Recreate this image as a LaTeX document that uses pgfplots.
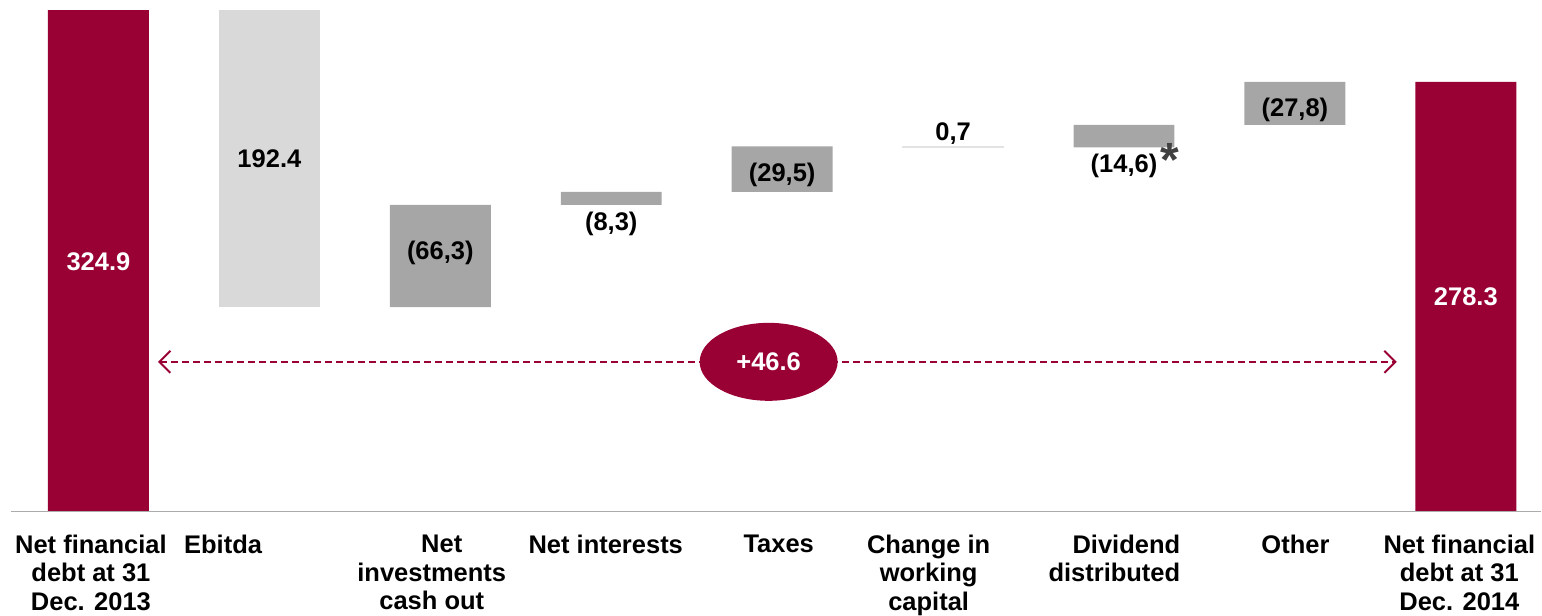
\documentclass[border=0pt]{standalone}
\usepackage{fontspec}
\setmainfont{Liberation Sans}
\usepackage{pgfplots}
\pgfplotsset{compat=1.18}
\usetikzlibrary{arrows.meta,shapes.geometric}
\definecolor{wine}{HTML}{990033}
\definecolor{lgray}{HTML}{D9D9D9}
\definecolor{mgray}{HTML}{A6A6A6}
\definecolor{wcgray}{HTML}{E3E3E3}
\definecolor{axgray}{HTML}{ABABAB}
\definecolor{stargray}{HTML}{404040}
\newcommand\lab{\fontsize{25.5bp}{28.5bp}\selectfont\bfseries}
\newcommand\val{\fontsize{25.5bp}{28bp}\selectfont\bfseries}
\begin{document}
\begin{tikzpicture}
\begin{axis}[
  scale only axis, width=1542bp, height=616bp,
  xmin=-0.576, xmax=8.4415, ymin=-67.3, ymax=331.4,
  hide axis, clip=false,
  ybar stacked, bar width=0.5906,
]
% invisible base
\addplot[draw=none, fill=none] coordinates {(0,0) (1,132.5) (2,132.5) (3,198.8) (4,207.1) (5,235.9) (6,235.9) (7,250.5) (8,0)};
% totals
\addplot[draw=none, fill=wine] coordinates {(0,324.9) (1,0) (2,0) (3,0) (4,0) (5,0) (6,0) (7,0) (8,278.3)};
% ebitda
\addplot[draw=none, fill=lgray] coordinates {(0,0) (1,192.4) (2,0) (3,0) (4,0) (5,0) (6,0) (7,0) (8,0)};
% outflows
\addplot[draw=none, fill=mgray] coordinates {(0,0) (1,0) (2,66.3) (3,8.3) (4,29.5) (5,0) (6,14.6) (7,27.8) (8,0)};
% change in working capital
\addplot[draw=wcgray, line width=0.6bp, fill=wcgray] coordinates {(0,0) (1,0) (2,0) (3,0) (4,0) (5,0.7) (6,0) (7,0) (8,0)};

% full-size invisible frame for the bounding box
\path (rel axis cs:0,0) rectangle (rel axis cs:1,1);

% anchor points for annotations (drawn after the axis)
\coordinate (b0) at (axis cs:-0.512,0);
\coordinate (b1) at (axis cs:8.4415,0);
\coordinate (v0) at (axis cs:0,156.0);
\coordinate (v1) at (axis cs:1,222.7);
\coordinate (v2) at (axis cs:2,163.4);
\coordinate (v3) at (axis cs:3,181.9);
\coordinate (v4) at (axis cs:4,213.9);
\coordinate (v5) at (axis cs:5,240.5);
\coordinate (v6) at (axis cs:6,219.4);
\coordinate (st) at (axis cs:6.27,217.0);
\coordinate (v7) at (axis cs:7,256.0);
\coordinate (v8) at (axis cs:8,133.7);
\coordinate (a0) at (axis cs:0.348,97.1);
\coordinate (a1) at (axis cs:7.596,97.1);
\coordinate (el) at (axis cs:3.921,97.1);
\coordinate (c0) at (axis cs:-0.044,-14.9);
\coordinate (c1) at (axis cs:0.5,-14.9);
\coordinate (c2) at (axis cs:1.950,-14.9);
\coordinate (c3) at (axis cs:2.968,-14.9);
\coordinate (c4) at (axis cs:3.980,-14.9);
\coordinate (c5) at (axis cs:4.857,-14.9);
\coordinate (c6) at (axis cs:6.330,-14.9);
\coordinate (c7) at (axis cs:7.003,-14.9);
\coordinate (c8) at (axis cs:7.962,-14.9);
\end{axis}

% baseline
\draw[axgray, line width=1.4bp] (b0) -- (b1);

% value labels
\node[anchor=base, text=white, inner sep=0] at (v0) {\val 324.9};
\node[anchor=base, inner sep=0] at (v1) {\val 192.4};
\node[anchor=base, inner sep=0] at (v2) {\val (66,3)};
\node[anchor=base, inner sep=0] at (v3) {\val (8,3)};
\node[anchor=base, inner sep=0] at (v4) {\val (29,5)};
\node[anchor=base, inner sep=0] at (v5) {\val 0,7};
\node[anchor=base, inner sep=0] at (v6) {\val (14,6)};
\node[anchor=base, inner sep=0, text=stargray] at (st) {\fontsize{48bp}{48bp}\selectfont\bfseries *};
\node[anchor=base, inner sep=0] at (v7) {\val (27,8)};
\node[anchor=base, text=white, inner sep=0] at (v8) {\val 278.3};

% dashed arrow and ellipse
\draw[wine, line width=2bp, dash pattern=on 7bp off 4bp,
  {Straight Barb[length=11bp,width=22bp,line width=2bp]}-{Straight Barb[length=11bp,width=22bp,line width=2bp]}]
  (a0) -- (a1);
\node[ellipse, fill=wine, text=white, minimum width=138bp, minimum height=78bp, inner sep=0]
  at (el) {\val +46.6};

% category labels
\node[anchor=north, align=center, inner sep=0, font=\lab] at (c0) {Net financial\\debt at 31\\Dec. 2013};
\node[anchor=north west, inner sep=0, font=\lab] at (c1) {Ebitda};
\node[anchor=north, align=center, inner sep=0, font=\lab] at (c2) {\hspace*{20bp}Net\\investments\\cash out};
\node[anchor=north, inner sep=0, font=\lab] at (c3) {Net interests};
\node[anchor=north, inner sep=0, font=\lab] at (c4) {Taxes};
\node[anchor=north, align=center, inner sep=0, font=\lab] at (c5) {Change in\\working\\capital};
\node[anchor=north east, align=right, inner sep=0, font=\lab] at (c6) {Dividend\\distributed};
\node[anchor=north, inner sep=0, font=\lab] at (c7) {Other};
\node[anchor=north, align=center, inner sep=0, font=\lab] at (c8) {Net financial\\debt at 31\\Dec. 2014};
\end{tikzpicture}
\end{document}
